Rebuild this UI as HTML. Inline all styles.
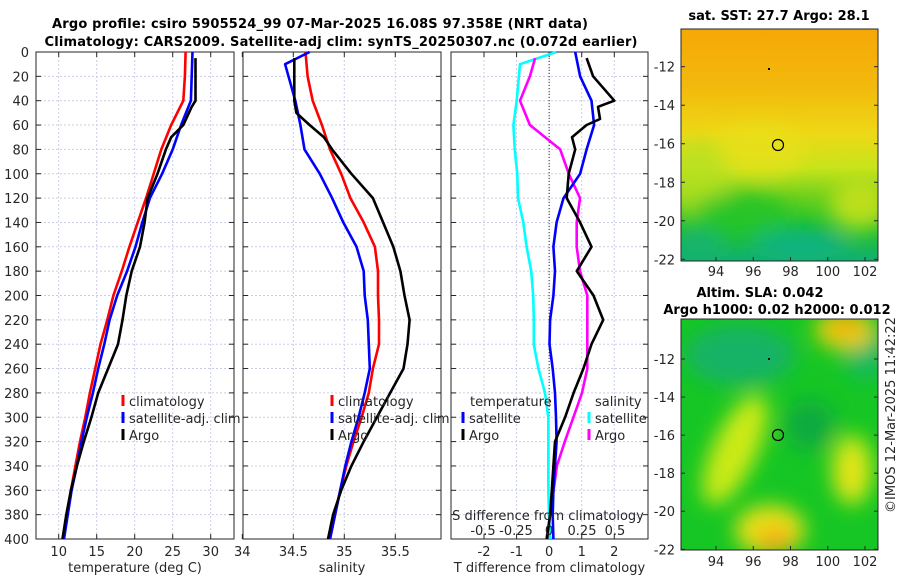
<!DOCTYPE html>
<html><head><meta charset="utf-8"><style>
body{margin:0;background:#fff}
svg{display:block;font-family:"DejaVu Sans","Liberation Sans",sans-serif}
.t{font-size:13px;fill:#262626}
.b{font-size:13px;font-weight:bold;fill:#000}
</style></head><body>
<svg id="c" width="900" height="580" viewBox="0 0 900 580" xmlns="http://www.w3.org/2000/svg">
<defs>
<filter id="bl" x="-50%" y="-50%" width="200%" height="200%"><feGaussianBlur stdDeviation="10"/></filter>
<clipPath id="m1c"><rect x="681" y="29" width="197" height="232"/></clipPath>
<clipPath id="m2c"><rect x="681" y="319" width="197" height="231"/></clipPath>
<linearGradient id="sst" x1="0" y1="0" x2="0" y2="1">
<stop offset="0" stop-color="#f6a806"/><stop offset="0.25" stop-color="#f2b90c"/>
<stop offset="0.45" stop-color="#eed816"/><stop offset="0.6" stop-color="#c6e41c"/>
<stop offset="0.72" stop-color="#70d01c"/><stop offset="0.85" stop-color="#1cc22a"/>
<stop offset="1" stop-color="#12b070"/></linearGradient>
</defs>
<text class="b" x="320" y="28" text-anchor="middle" textLength="536">Argo profile: csiro 5905524_99 07-Mar-2025 16.08S 97.358E (NRT data)</text>
<text class="b" x="341" y="46" text-anchor="middle" textLength="593">Climatology: CARS2009. Satellite-adj clim: synTS_20250307.nc (0.072d earlier)</text>
<g id="panels"></g>
<g>
<text class="b" x="779" y="20" text-anchor="middle">sat. SST: 27.7 Argo: 28.1</text>
<g clip-path="url(#m1c)">
<rect x="681" y="29" width="197" height="232" fill="url(#sst)"/>
<g filter="url(#bl)">
<ellipse cx="760" cy="150" rx="45" ry="25" fill="#e8e018" opacity="0.8"/>
<ellipse cx="700" cy="180" rx="30" ry="40" fill="#b8e020" opacity="0.8"/>
<ellipse cx="740" cy="215" rx="50" ry="22" fill="#22c428" opacity="0.9"/>
<ellipse cx="860" cy="205" rx="30" ry="25" fill="#d4e418" opacity="0.8"/>
<ellipse cx="800" cy="245" rx="50" ry="15" fill="#10b282"/>
<ellipse cx="700" cy="245" rx="25" ry="15" fill="#12b272"/>
</g></g>
<rect x="681" y="29" width="197" height="232" fill="none" stroke="#262626" stroke-width="1"/>
<circle cx="778" cy="145" r="5.5" fill="none" stroke="#000" stroke-width="1.2"/>
<rect x="768" y="68" width="2" height="2" fill="#000"/>
</g>
<g>
<text class="b" x="760" y="297" text-anchor="middle">Altim. SLA: 0.042</text>
<text class="b" x="777" y="314" text-anchor="middle">Argo h1000: 0.02 h2000: 0.012</text>
<g clip-path="url(#m2c)">
<rect x="681" y="319" width="197" height="231" fill="#16c624"/>
<g filter="url(#bl)">
<ellipse cx="740" cy="355" rx="55" ry="30" fill="#14b266"/>
<ellipse cx="865" cy="350" rx="20" ry="30" fill="#14b866"/>
<ellipse cx="845" cy="330" rx="30" ry="20" fill="#e8d010"/>
<ellipse cx="845" cy="325" rx="15" ry="8" fill="#f2a010"/>
<ellipse cx="735" cy="450" rx="22" ry="60" fill="#ccea14" transform="rotate(25 735 450)"/>
<ellipse cx="770" cy="530" rx="35" ry="25" fill="#e8e018"/>
<ellipse cx="775" cy="540" rx="18" ry="12" fill="#f4a812"/>
<ellipse cx="852" cy="470" rx="20" ry="35" fill="#d8e814"/>
<ellipse cx="850" cy="475" rx="8" ry="14" fill="#f0e018"/>
<ellipse cx="810" cy="425" rx="25" ry="25" fill="#10aa40"/>
</g></g>
<rect x="681" y="319" width="197" height="231" fill="none" stroke="#262626" stroke-width="1"/>
<circle cx="778" cy="435" r="5.5" fill="none" stroke="#000" stroke-width="1.2"/>
<rect x="768" y="358" width="2" height="2" fill="#000"/>
<text class="t" x="0" y="0" transform="translate(895,415) rotate(-90)" text-anchor="middle">©IMOS 12-Mar-2025 11:42:22</text>
</g>
<g id="maxes"></g>
</svg>
<script>
const depths=[0,20,40,60,80,100,120,140,160,180,200,220,240,260,280,300,320,340,360,380,400];
const tempClim=[26.7,26.6,26.4,24.8,23.5,22.5,21.5,20.4,19.3,18.3,17.2,16.4,15.5,14.8,14.1,13.5,12.8,12.2,11.6,11.1,10.5];
const tempSat=[27.6,27.5,27.4,26.1,25.0,23.6,22.0,21.0,20.1,19.0,17.7,16.7,16.0,15.2,14.5,13.7,13.0,12.4,11.7,11.2,10.7];
const argoDepths=[5,20,40,45,60,70,80,100,120,140,160,180,200,220,240,260,280,300,320,340,360,380,400];
const tempArgo=[28.0,28.0,28.0,27.5,26.4,24.8,24.1,23.0,21.7,21.3,20.7,19.6,18.9,18.4,17.8,16.5,15.2,14.3,13.3,12.4,11.6,11.0,10.5];
const salClim=[34.62,34.64,34.69,34.78,34.86,34.97,35.06,35.19,35.30,35.33,35.33,35.34,35.34,35.28,35.24,35.17,35.09,35.02,34.96,34.91,34.86];
const salSat=[34.66,34.42,34.52,34.57,34.61,34.76,34.88,34.99,35.12,35.19,35.20,35.23,35.24,35.25,35.20,35.14,35.07,35.01,34.96,34.91,34.86];
const salSatDepths=[0,10,40,60,80,100,120,140,160,180,200,220,240,260,280,300,320,340,360,380,400];
const salArgo=[34.51,34.51,34.51,34.53,34.66,34.80,34.88,35.07,35.28,35.38,35.48,35.55,35.59,35.64,35.62,35.58,35.45,35.32,35.19,35.07,34.97,34.89,34.84];
const salArgoDepths=[5,20,40,50,60,70,80,100,120,140,160,180,200,220,240,260,280,300,320,340,360,380,400];
const dTSat=[0.8,0.95,1.3,1.38,1.15,0.95,0.44,0.23,0.13,0.18,0.13,0.03,0.01,0.11,0.18,0.21,0.23,0.18,0.13,0.11,0.13];
const dTArgoDepths=[5,20,40,45,55,60,70,80,100,120,140,160,180,200,220,240,260,280,300,320,340,360,380,400];
const dTArgo=[1.15,1.35,2.0,1.5,1.56,1.15,0.7,0.8,0.6,0.54,0.95,1.3,0.85,1.36,1.66,1.3,1.05,0.75,0.49,0.18,0.13,0.08,0.03,-0.07];
const dSSat=[0.055,-0.22,-0.245,-0.27,-0.26,-0.24,-0.235,-0.195,-0.17,-0.135,-0.12,-0.115,-0.115,-0.08,-0.03,-0.005,-0.005,-0.005,-0.005,0.0,0.01];
const dSSatDepths=[0,10,40,60,80,100,120,140,160,180,200,220,240,260,280,300,320,340,360,380,400];
const dSArgo=[-0.105,-0.145,-0.22,-0.145,0.085,0.15,0.235,0.21,0.21,0.235,0.29,0.29,0.29,0.29,0.25,0.185,0.12,0.06,0.035,0.01,-0.02];
const dSArgoDepths=[5,20,40,60,80,100,120,140,160,180,200,220,240,260,280,300,320,340,360,380,400];
const tTicks=[10,15,20,25,30], sTicks=[34,34.5,35,35.5], dTTicks=[-2,-1,0,1,2], dSTicks=[-0.5,-0.25,0,0.25,0.5];
const dSLabels=["-0.5","-0.25","0","0.25","0.5"];
const depthTicks=[0,20,40,60,80,100,120,140,160,180,200,220,240,260,280,300,320,340,360,380,400];
const lonTicks=[94,96,98,100,102], latTicks=[-12,-14,-16,-18,-20,-22];

const NS="http://www.w3.org/2000/svg";
const G=document.getElementById('panels');
function el(tag,attrs,parent,txt){const e=document.createElementNS(NS,tag);for(const k in attrs)e.setAttribute(k,attrs[k]);if(txt!==undefined)e.textContent=txt;(parent||G).appendChild(e);return e;}
const Y0=52,Y1=539;
const yD=d=>Y0+(d/400)*(Y1-Y0);
function lin(d0,d1,r0,r1){return v=>r0+(v-d0)/(d1-d0)*(r1-r0);}
const P=[{x0:36,x1:234,sx:lin(10,30,58.7,210.7)},{x0:243,x1:441,sx:lin(34.5,35.5,293.3,395.3)},{x0:451,x1:648,sx:lin(-2,2,484,614.3)}];
const sxS=lin(-0.5,0.5,483,615);

function frame(p,name,xticks,labels,xtitle){
  const g=el('g',{});
  
  
  depthTicks.forEach(d=>{const y=yD(d);el('line',{x1:p.x0,x2:p.x1,y1:y,y2:y,stroke:'#c9cde6','stroke-width':1,'stroke-dasharray':'2,2'},g);
    el('line',{x1:p.x0,x2:p.x0+5,y1:y,y2:y,stroke:'#262626'},g);el('line',{x1:p.x1-5,x2:p.x1,y1:y,y2:y,stroke:'#262626'},g);});
  xticks.forEach((v,i)=>{const x=p.sx(v);
    if(x>p.x0+1&&x<p.x1-1)el('line',{x1:x,x2:x,y1:Y0,y2:Y1,stroke:'#c9cde6','stroke-width':1,'stroke-dasharray':'2,2'},g);
    el('line',{x1:x,x2:x,y1:Y1,y2:Y1-5,stroke:'#262626'},g);el('line',{x1:x,x2:x,y1:Y0,y2:Y0+5,stroke:'#262626'},g);
    const t=el('text',{class:'t',x:x,y:556,'text-anchor':'middle'},g,labels[i]);
    
    });
  el('rect',{x:p.x0,y:Y0,width:p.x1-p.x0,height:Y1-Y0,fill:'none',stroke:'#262626','stroke-width':1},g);
  const tt=el('text',{class:'t',x:(p.x0+p.x1)/2,y:572,'text-anchor':'middle'},g,xtitle);
  
  
  return g;
}
function series(g,xs,ds,sx,color,name){
  const pts=xs.map((v,i)=>sx(v).toFixed(1)+','+yD(ds[i]).toFixed(1)).join(' ');
  const l=el('polyline',{points:pts,fill:'none',stroke:color,'stroke-width':2.6,'stroke-linejoin':'round'},g);
  
  
}
function legend(g,x,y,color,label,name){
  el('rect',{x:x-1.5,y:y-6,width:3,height:11,fill:color},g);
  const t=el('text',{class:'t',x:x+6,y:y+5},g,label);
  
  
}
let g1=frame(P[0],'temperature-panel',tTicks,tTicks.map(String),'temperature (deg C)');
depthTicks.forEach(d=>{const t=el('text',{class:'t',x:29,y:yD(d)+5,'text-anchor':'end'},g1,String(d));
  
  });
series(g1,tempClim,depths,P[0].sx,'#ff0000','temp-climatology-line');
series(g1,tempSat,depths,P[0].sx,'#0000ff','temp-satellite-line');
series(g1,tempArgo,argoDepths,P[0].sx,'#000','temp-argo-line');
legend(g1,123,401,'#ff0000','climatology','legend-climatology');
legend(g1,123,418,'#0000ff','satellite-adj. clim','legend-satellite');
legend(g1,123,435,'#000','Argo','legend-argo');
let g2=frame(P[1],'salinity-panel',sTicks,["34","34.5","35","35.5"],'salinity');
series(g2,salClim,depths,P[1].sx,'#ff0000','sal-climatology-line');
series(g2,salSat,salSatDepths,P[1].sx,'#0000ff','sal-satellite-line');
series(g2,salArgo,salArgoDepths,P[1].sx,'#000','sal-argo-line');
legend(g2,332,401,'#ff0000','climatology','legend-climatology');
legend(g2,332,418,'#0000ff','satellite-adj. clim','legend-satellite');
legend(g2,332,435,'#000','Argo','legend-argo');
let g3=frame(P[2],'difference-panel',dTTicks,dTTicks.map(String),'T difference from climatology');
el('line',{x1:P[2].sx(0),x2:P[2].sx(0),y1:Y0,y2:Y1,stroke:'#333','stroke-width':1,'stroke-dasharray':'1,2'},g3);
series(g3,dSSat,dSSatDepths,sxS,'#00ffff','dsal-satellite-line');
series(g3,dSArgo,dSArgoDepths,sxS,'#ff00ff','dsal-argo-line');
series(g3,dTSat,depths,P[2].sx,'#0000ff','dtemp-satellite-line');
series(g3,dTArgo,dTArgoDepths,P[2].sx,'#000','dtemp-argo-line');
let st=el('text',{class:'t',x:548,y:520,'text-anchor':'middle'},g3,'S difference from climatology');


dSTicks.forEach((v,i)=>{const t=el('text',{class:'t',x:sxS(v),y:535,'text-anchor':'middle'},g3,dSLabels[i]);
  
  });
let lt=el('text',{class:'t',x:470,y:406},g3,'temperature');


let ls=el('text',{class:'t',x:595,y:406},g3,'salinity');


legend(g3,463,418,'#0000ff','satellite','legend-t-satellite');
legend(g3,463,435,'#000','Argo','legend-t-argo');
legend(g3,589,418,'#00ffff','satellite','legend-s-satellite');
legend(g3,589,435,'#ff00ff','Argo','legend-s-argo');
const M=document.getElementById('maxes');
const mx=lin(94,102,716,865);
[[29,261,lin(-12,-22,66.7,259.3),276],[319,550,lin(-12,-22,359,549.3),566]].forEach((m,k)=>{
  lonTicks.forEach(v=>{const x=mx(v);el('line',{x1:x,x2:x,y1:m[1],y2:m[1]-4,stroke:'#262626'},M);
    const t=el('text',{class:'t',x:x,y:m[3],'text-anchor':'middle'},M,String(v));
    
    });
  latTicks.forEach(v=>{const y=m[2](v);el('line',{x1:681,x2:685,y1:y,y2:y,stroke:'#262626'},M);el('line',{x1:874,x2:878,y1:y,y2:y,stroke:'#262626'},M);
    const t=el('text',{class:'t',x:675,y:y+5,'text-anchor':'end'},M,String(v));
    
    });
});
</script>
</body></html>
